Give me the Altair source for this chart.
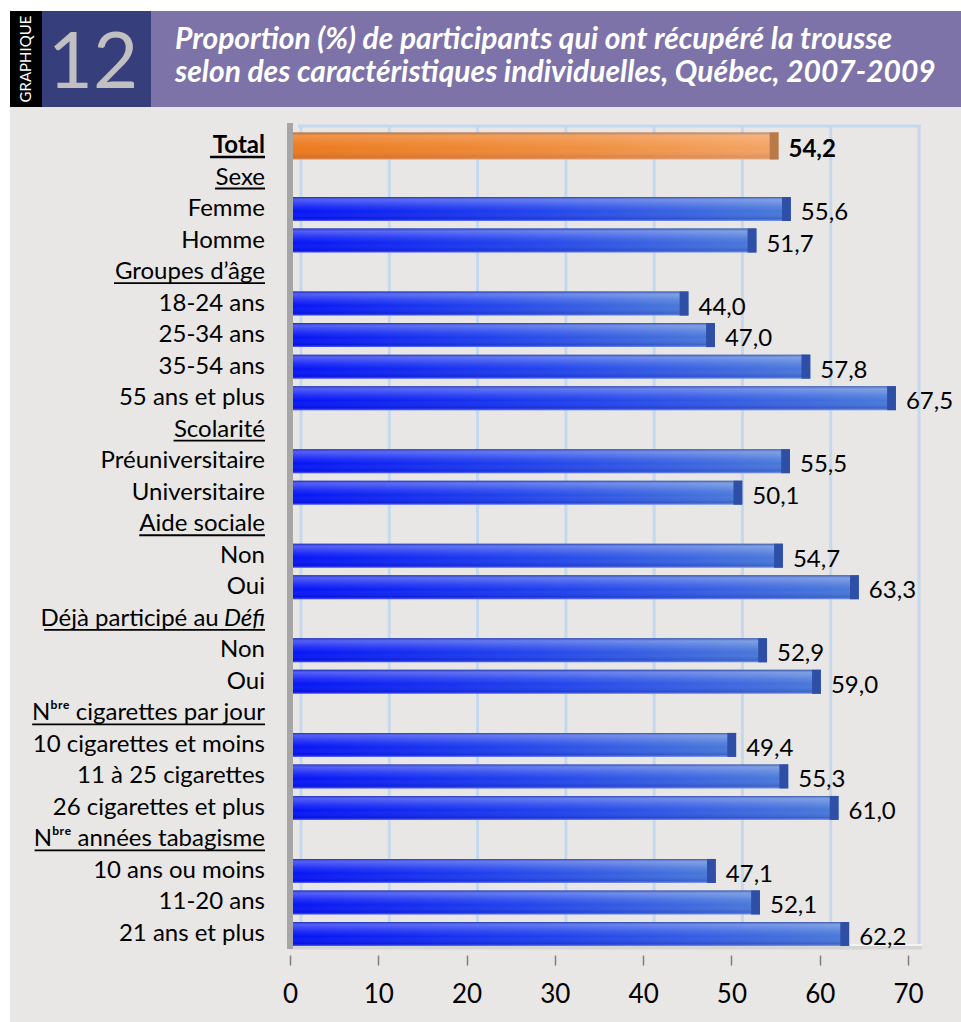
import altair as alt
import pandas as pd

# ---------------- data ----------------
categories = [
    "Total", "Sexe", "Femme", "Homme", "Groupes d’âge",
    "18-24 ans", "25-34 ans", "35-54 ans", "55 ans et plus",
    "Scolarité", "Préuniversitaire", "Universitaire",
    "Aide sociale", "Non", "Oui",
    "Déjà participé au Défi", "Non", "Oui",
    "Nᵇʳᵉ cigarettes par jour", "10 cigarettes et moins", "11 à 25 cigarettes", "26 cigarettes et plus",
    "Nᵇʳᵉ années tabagisme", "10 ans ou moins", "11-20 ans", "21 ans et plus",
]
kinds = [
    "total", "header", "item", "item", "header",
    "item", "item", "item", "item",
    "header", "item", "item",
    "header", "item", "item",
    "header", "item", "item",
    "header", "item", "item", "item",
    "header", "item", "item", "item",
]
values = [
    54.2, None, 55.6, 51.7, None,
    44.0, 47.0, 57.8, 67.5,
    None, 55.5, 50.1,
    None, 54.7, 63.3,
    None, 52.9, 59.0,
    None, 49.4, 55.3, 61.0,
    None, 47.1, 52.1, 62.2,
]
x_ticks = [0, 10, 20, 30, 40, 50, 60, 70]

title_line1 = "Proportion (%) de participants qui ont récupéré la trousse"
title_line2 = "selon des caractéristiques individuelles, Québec, 2007-2009"
graph_word = "GRAPHIQUE"
graph_num = "12"

# ---------------- styling helpers ----------------
W, H = 618, 830
FONT = "Lato"
LFS = 24            # category label font size
LAB_X = -25         # right edge of category labels (px from plot left)
GRID = "#c6d8ee"

# approximate rendered width (in em) of the underlined header labels, used for the underline rule
underline_em = {
    "Total": 2.29, "Sexe": 2.08, "Groupes d’âge": 6.29, "Scolarité": 3.81,
    "Aide sociale": 5.24, "Déjà participé au Défi": 9.2,
    "Nᵇʳᵉ cigarettes par jour": 9.7, "Nᵇʳᵉ années tabagisme": 9.6,
}
ITAL = "Défi"
ITAL_EM = 1.72

rows = []
for i, (c, k, v) in enumerate(zip(categories, kinds, values)):
    lab, ital = c, ""
    if c.endswith(ITAL):
        lab, ital = c[: -len(ITAL)].rstrip(), ITAL
    rows.append({
        "row": i,
        "label": lab,
        "ital": ital,
        "kind": k,
        "value": v,
        "zero": 0,
        "vlabel": (f"{v:.1f}".replace(".", ",") if v is not None else ""),
        "cap0": (v - 1.0 if v is not None else None),
        "ulx": (LAB_X - underline_em[c] * LFS) if c in underline_em else None,
    })
df = pd.DataFrame(rows)
grid_df = pd.DataFrame({"t": x_ticks})
one = pd.DataFrame({"a": [0]})

xscale = alt.Scale(domain=[0, 70], nice=False)
yscale = alt.Scale(paddingInner=0, paddingOuter=0.166)
order = list(range(len(categories)))

base = alt.Chart(df)
Y = alt.Y("row:O", scale=yscale, sort=order, axis=None)

# ---------- decorations ----------
grid = alt.Chart(grid_df).mark_rule(color=GRID, strokeWidth=3, xOffset=11).encode(
    x=alt.X("t:Q", scale=xscale,
            axis=alt.Axis(values=x_ticks, domain=False, grid=False, ticks=True, tickSize=10,
                          tickColor="#7f7f7f", tickWidth=1.5, labelFontSize=26, labelFont=FONT,
                          labelColor="#000000", labelPadding=16, title=None, labelFlush=False)),
    y=alt.value(0), y2=alt.value(H - 10),
)
topframe = alt.Chart(one).mark_rule(color=GRID, strokeWidth=3).encode(
    x=alt.value(8), x2=alt.value(W + 13), y=alt.value(1))
floor = alt.Chart(one).mark_rule(color="#d5d5d5", strokeWidth=5).encode(
    x=alt.value(0), x2=alt.value(W + 14), y=alt.value(H - 8))
floor2 = alt.Chart(one).mark_rule(color="#f4f4f4", strokeWidth=2).encode(
    x=alt.value(4), x2=alt.value(W + 14), y=alt.value(H - 10))
wall = alt.Chart(one).mark_rect(color="#a6a6a6").encode(
    x=alt.value(-3), x2=alt.value(3), y=alt.value(-2), y2=alt.value(H - 6))

# ---------- bars ----------
blue_h = alt.Gradient(gradient="linear", x1=0, x2=1, y1=0, y2=0, stops=[
    alt.GradientStop(color="#0614f6", offset=0),
    alt.GradientStop(color="#2244ec", offset=0.5),
    alt.GradientStop(color="#4a7ad8", offset=1)])
orange_h = alt.Gradient(gradient="linear", x1=0, x2=1, y1=0, y2=0, stops=[
    alt.GradientStop(color="#ec7a1e", offset=0),
    alt.GradientStop(color="#f08f40", offset=0.6),
    alt.GradientStop(color="#f4a464", offset=1)])
shade_v = alt.Gradient(gradient="linear", x1=0, x2=0, y1=0, y2=1, stops=[
    alt.GradientStop(color="rgba(40,60,120,0.55)", offset=0),
    alt.GradientStop(color="rgba(255,255,255,0.30)", offset=0.12),
    alt.GradientStop(color="rgba(255,255,255,0.10)", offset=0.4),
    alt.GradientStop(color="rgba(255,255,255,0.0)", offset=0.6),
    alt.GradientStop(color="rgba(0,0,120,0.15)", offset=0.9),
    alt.GradientStop(color="rgba(255,255,255,0.35)", offset=1)])

items = base.transform_filter("datum.kind == 'item'")
total = base.transform_filter("datum.kind == 'total'")
XOFF = 10


def bar_layer(src, size, color, **kw):
    return src.mark_bar(size=size, color=color, xOffset=XOFF, x2Offset=0, **kw).encode(
        x=alt.X("value:Q", scale=xscale), x2="zero:Q", y=Y)


bars = bar_layer(items, 24, blue_h)
bars_t = bar_layer(total, 27, orange_h)
shade = bar_layer(items, 24, shade_v)
shade_t = bar_layer(total, 27, shade_v, opacity=0.6)
caps = items.mark_bar(size=24, color="#2f4fa6", xOffset=XOFF, x2Offset=XOFF).encode(
    x=alt.X("cap0:Q", scale=xscale), x2="value:Q", y=Y)
caps_t = total.mark_bar(size=27, color="#b77a48", xOffset=XOFF, x2Offset=XOFF).encode(
    x=alt.X("cap0:Q", scale=xscale), x2="value:Q", y=Y)

# ---------- texts ----------
vals = items.mark_text(align="left", baseline="middle", dx=20, dy=4, fontSize=24,
                       font=FONT, color="#000000").encode(
    x=alt.X("value:Q", scale=xscale), y=Y, text="vlabel:N")
vals_t = total.mark_text(align="left", baseline="middle", dx=20, dy=4, fontSize=24,
                         font=FONT, fontWeight="bold", color="#000000").encode(
    x=alt.X("value:Q", scale=xscale), y=Y, text="vlabel:N")

labs = base.transform_filter("datum.kind != 'total' && datum.ital == ''").mark_text(
    align="right", baseline="middle", fontSize=LFS, font=FONT, color="#000000").encode(
    x=alt.value(LAB_X), y=Y, text="label:N")
labs_t = total.mark_text(align="right", baseline="middle", fontSize=LFS, font=FONT,
                         fontWeight="bold", color="#000000").encode(
    x=alt.value(LAB_X), y=Y, text="label:N")
labs_i1 = base.transform_filter("datum.ital != ''").mark_text(
    align="right", baseline="middle", fontSize=LFS, font=FONT, fontStyle="italic",
    color="#000000").encode(x=alt.value(LAB_X), y=Y, text="ital:N")
labs_i2 = base.transform_filter("datum.ital != ''").mark_text(
    align="right", baseline="middle", fontSize=LFS, font=FONT, color="#000000").encode(
    x=alt.value(LAB_X - ITAL_EM * LFS - 5), y=Y, text="label:N")
ulines = base.transform_filter("datum.ulx != null && datum.kind == 'header'").mark_rule(
    color="#000000", strokeWidth=1.8, yOffset=11).encode(
    x=alt.X("ulx:Q", scale=None), x2=alt.value(LAB_X), y=Y)
uline_t = total.mark_rule(color="#000000", strokeWidth=2.6, yOffset=11).encode(
    x=alt.X("ulx:Q", scale=None), x2=alt.value(LAB_X), y=Y)

# ---------- header ----------
white_top = alt.Chart(one).mark_rect(color="#ffffff").encode(
    x=alt.value(-290), x2=alt.value(W + 53), y=alt.value(-125), y2=alt.value(-114))
white_left = alt.Chart(one).mark_rect(color="#ffffff").encode(
    x=alt.value(-290), x2=alt.value(-280), y=alt.value(-125), y2=alt.value(H + 67))
black_box = alt.Chart(one).mark_rect(color="#000000").encode(
    x=alt.value(-280), x2=alt.value(-248), y=alt.value(-114), y2=alt.value(-18))
navy_box = alt.Chart(one).mark_rect(color="#363e7c").encode(
    x=alt.value(-248), x2=alt.value(-139), y=alt.value(-114), y2=alt.value(-18))
purple_box = alt.Chart(one).mark_rect(color="#7d73a9").encode(
    x=alt.value(-139), x2=alt.value(W + 53), y=alt.value(-114), y2=alt.value(-18))
gword = alt.Chart(one).mark_text(angle=270, align="center", baseline="middle", fontSize=15,
                                 font=FONT, color="#ffffff").encode(
    x=alt.value(-264), y=alt.value(-66), text=alt.value(graph_word))
gnum = alt.Chart(one).mark_text(align="center", baseline="alphabetic", fontSize=78,
                                font=FONT, fontWeight="normal", color="#c0c0c0").encode(
    x=alt.value(-197), y=alt.value(-37), text=alt.value(graph_num))
t1 = alt.Chart(one).mark_text(align="left", baseline="alphabetic", fontSize=30, font=FONT,
                              fontWeight="bold", fontStyle="italic", color="#ffffff").encode(
    x=alt.value(-115), y=alt.value(-76), text=alt.value(title_line1))
t2 = alt.Chart(one).mark_text(align="left", baseline="alphabetic", fontSize=30, font=FONT,
                              fontWeight="bold", fontStyle="italic", color="#ffffff").encode(
    x=alt.value(-115), y=alt.value(-43), text=alt.value(title_line2))

chart = alt.layer(
    white_top, white_left, black_box, navy_box, purple_box, gword, gnum, t1, t2,
    grid, topframe, floor, floor2,
    bars, bars_t, shade, shade_t, caps, caps_t, wall,
    vals, vals_t, labs, labs_t, labs_i1, labs_i2, ulines, uline_t,
).properties(
    width=W, height=H,
    autosize=alt.AutoSizeParams(type="none"),
    padding={"left": 290, "top": 125, "right": 53, "bottom": 67},
    background="#e8e7e5",
).configure_view(stroke=None)

chart.save("out.html", embed_options={"renderer": "svg", "actions": False})
